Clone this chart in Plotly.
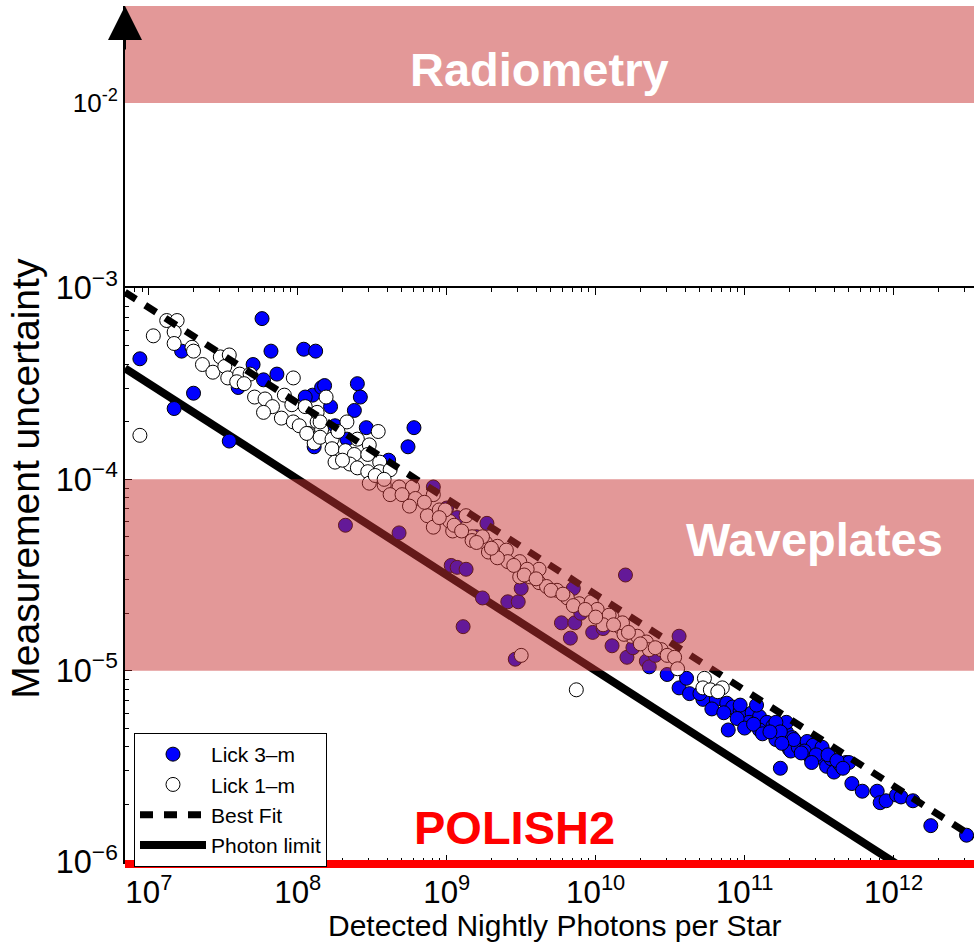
import numpy as np
import plotly.graph_objects as go

# ---------------- data (log10 values) ----------------
# Lick 3-m (blue filled circles)
lick3m_log_photons = [
    6.94, 7.76, 7.82, 8.04, 8.12, 7.22, 7.30, 7.17, 7.54, 7.70, 7.86, 7.77, 7.60, 8.10, 8.16, 8.05, 8.18, 8.40, 8.42, 8.22,
    8.38, 8.46, 8.78, 8.74, 8.61, 8.11, 8.25, 8.33,
    8.91, 8.32, 8.68, 9.27, 9.07, 9.03, 9.07, 9.13, 9.24, 9.41, 9.48, 9.50, 9.11, 9.77, 9.86, 9.83, 10.20, 9.85, 9.98, 10.11,
    9.46, 10.56, 10.21, 10.34,
    10.36, 10.48, 10.56, 10.61, 10.63, 10.72, 10.81, 10.88, 10.92, 10.97, 10.99, 11.05, 11.10, 11.15, 11.19, 11.23, 11.28,
    11.32, 10.97, 11.03, 11.10, 10.89, 11.30, 11.35, 11.21, 11.08, 11.28, 11.21, 11.24, 11.31, 11.36, 11.33, 11.42, 11.44,
    11.46, 11.52, 11.53, 11.55, 11.60, 11.58, 11.64, 11.68, 11.70, 11.24, 11.72, 11.79, 11.89, 11.91, 11.95, 12.02, 12.05,
    12.13, 12.25, 12.49,
    10.70, 10.78, 10.86, 10.95, 11.00, 11.06, 11.12, 11.17, 11.25, 11.40, 11.48, 11.56, 11.62, 11.66, 11.45, 11.38,
    9.00, 9.20, 9.35, 9.60, 9.90, 10.05, 10.25, 10.40,
]
lick3m_log_sigma = [
    -3.37, -3.16, -3.33, -3.32, -3.33, -3.33, -3.55, -3.63, -3.80, -3.40, -3.45, -3.48, -3.52, -3.56, -3.52, -3.57, -3.51,
    -3.50, -3.57, -3.62, -3.64, -3.73, -3.73, -3.83, -3.90, -3.83, -3.72, -3.79,
    -4.04, -4.24, -4.28, -4.23, -4.20, -4.45, -4.46, -4.47, -4.62, -4.64, -4.64, -4.57, -4.77, -4.75, -4.75, -4.83, -4.50,
    -4.57, -4.80, -4.87, -4.94, -4.82, -4.93, -4.95,
    -4.98, -5.02, -5.09, -5.04, -5.12, -5.15, -5.15, -5.17, -5.19, -5.21, -5.23, -5.22, -5.24, -5.27, -5.29, -5.30, -5.32,
    -5.35, -5.18, -5.27, -5.31, -5.31, -5.41, -5.38, -5.36, -5.18, -5.27, -5.27, -5.32, -5.42, -5.40, -5.36, -5.37, -5.45,
    -5.39, -5.40, -5.46, -5.50, -5.53, -5.46, -5.49, -5.48, -5.48, -5.51, -5.59, -5.63, -5.63, -5.69, -5.68, -5.65, -5.66,
    -5.68, -5.81, -5.86,
    -5.12, -5.20, -5.22, -5.25, -5.30, -5.28, -5.33, -5.32, -5.38, -5.42, -5.44, -5.44, -5.47, -5.51, -5.48, -5.43,
    -4.15, -4.30, -4.40, -4.52, -4.70, -4.78, -4.88, -4.92,
]

# Lick 1-m (open circles)
lick1m_log_photons = [
    6.94, 7.03, 7.12, 7.19, 7.17, 7.17, 7.29, 7.30, 7.36, 7.43, 7.48, 7.54, 7.51, 7.53, 7.61, 7.68, 7.59, 7.64, 7.97, 7.71,
    7.78, 7.83, 7.91, 7.96, 7.89, 7.77, 7.97, 8.05, 8.07, 8.13, 8.11, 8.01, 8.16, 8.19, 8.13, 8.15, 8.33, 8.54, 8.06, 8.15,
    8.23, 8.27, 8.40, 8.48, 8.23, 8.32, 8.38, 8.47, 8.55, 8.25, 8.35, 8.40, 8.47, 8.55, 8.62, 8.30,
    8.48, 8.58, 8.68, 8.77, 8.62, 8.70, 8.79, 8.91, 8.75, 8.87, 8.95, 9.02, 9.13, 8.91, 9.04, 9.17, 9.26, 9.34, 8.99, 9.17,
    9.24, 9.28, 9.40, 9.41, 9.49, 9.56, 9.62, 9.67, 9.74, 9.81, 9.89, 9.97, 10.01, 10.07, 10.11, 10.16, 10.24, 10.19, 9.34,
    9.49, 9.62, 9.54, 9.50, 10.09, 10.18, 10.28, 10.34, 10.36, 10.44, 10.48, 10.53, 10.05,
    10.55, 10.73, 10.72, 10.77, 10.85, 10.82, 9.87,
    8.85, 8.95, 9.05, 9.10, 9.20, 9.30, 9.45, 9.52, 9.60, 9.70, 9.78, 9.85, 9.93, 10.00, 10.12, 10.22, 10.30, 10.40, 8.52, 8.58,
]
lick1m_log_sigma = [
    -3.77, -3.25, -3.17, -3.17, -3.23, -3.29, -3.31, -3.33, -3.40, -3.44, -3.36, -3.35, -3.41, -3.47, -3.45, -3.45, -3.49,
    -3.50, -3.47, -3.57, -3.58, -3.62, -3.56, -3.61, -3.68, -3.65, -3.70, -3.62, -3.76, -3.70, -3.81, -3.72, -3.74, -3.57,
    -3.65, -3.70, -3.70, -3.75, -3.76, -3.78, -3.79, -3.75, -3.79, -3.82, -3.84, -3.85, -3.87, -3.87, -3.91, -3.91, -3.92,
    -3.94, -3.96, -3.96, -3.95, -3.90,
    -4.02, -4.03, -4.04, -4.04, -4.08, -4.08, -4.10, -4.08, -4.14, -4.19, -4.16, -4.22, -4.19, -4.25, -4.27, -4.30, -4.33,
    -4.35, -4.16, -4.32, -4.30, -4.38, -4.37, -4.43, -4.51, -4.51, -4.54, -4.56, -4.58, -4.62, -4.65, -4.64, -4.68, -4.73,
    -4.72, -4.77, -4.82, -4.81, -4.41, -4.43, -4.47, -4.47, -4.92, -4.71, -4.75, -4.82, -4.85, -4.89, -4.89, -4.92, -4.93,
    -4.76,
    -4.99, -5.04, -5.09, -5.10, -5.09, -5.11, -5.10,
    -4.12, -4.20, -4.24, -4.27, -4.33, -4.36, -4.45, -4.50, -4.52, -4.58, -4.60, -4.66, -4.68, -4.72, -4.76, -4.80, -4.86,
    -4.88, -3.98, -4.00,
]

# model lines: sigma = coeff / sqrt(N)
best_fit_coeff = 2.5
photon_limit_coeff = 1.0
line_log_photons = [6.84, 12.54]

# requirement bands / levels
radiometry_band = [1e-2, 10 ** -1.476]
waveplates_band = [1e-5, 1e-4]
polish2_level = 1e-6

# axis ranges (log10)
x_range = [6.84, 12.54]
y_low_range = [-6, -3]
y_high_range = [-3, -1.476]

# ---------------- figure ----------------
FONT = "Liberation Sans, Arial, Helvetica, sans-serif"
split = 574 / 856

N_line = 10 ** np.array(line_log_photons)

fig = go.Figure()
fig.add_trace(go.Scatter(
    x=N_line, y=photon_limit_coeff / np.sqrt(N_line), mode="lines",
    line=dict(color="black", width=8), name="Photon limit", legendrank=4,
    xaxis="x", yaxis="y"))
fig.add_trace(go.Scatter(
    x=10 ** np.array(lick3m_log_photons), y=10 ** np.array(lick3m_log_sigma), mode="markers",
    marker=dict(color="#0000ff", size=14, line=dict(color="black", width=1)),
    name="Lick 3\u2013m", legendrank=1, xaxis="x", yaxis="y"))
fig.add_trace(go.Scatter(
    x=10 ** np.array(lick1m_log_photons), y=10 ** np.array(lick1m_log_sigma), mode="markers",
    marker=dict(color="white", size=14, line=dict(color="black", width=1)),
    name="Lick 1\u2013m", legendrank=2, xaxis="x", yaxis="y"))
fig.add_trace(go.Scatter(
    x=N_line, y=best_fit_coeff / np.sqrt(N_line), mode="lines",
    line=dict(color="black", width=7, dash="13px,11px"), name="Best Fit", legendrank=3,
    xaxis="x", yaxis="y"))
# empty trace so the upper panel exists
fig.add_trace(go.Scatter(x=[], y=[], xaxis="x", yaxis="y2", showlegend=False, hoverinfo="skip"))

band_color = "rgba(200,50,50,0.5)"
fig.add_shape(type="rect", xref="x domain", x0=0, x1=1, yref="y",
              y0=waveplates_band[0], y1=waveplates_band[1],
              fillcolor=band_color, line=dict(width=0), layer="above")
fig.add_shape(type="rect", xref="x domain", x0=0, x1=1, yref="y2",
              y0=radiometry_band[0], y1=radiometry_band[1],
              fillcolor=band_color, line=dict(width=0), layer="above")
# POLISH2 level = bottom of the lower axis (1e-6)
fig.add_shape(type="line", xref="x domain", x0=0, x1=1, yref="y domain",
              y0=-0.0035, y1=-0.0035,
              line=dict(color="#ff0000", width=8), layer="above")

big = dict(family=FONT, size=47, weight="bold")
fig.add_annotation(text="Radiometry", x=9.62, y=-1.82, xref="x", yref="y2",
                   showarrow=False, font=dict(big, color="white"))
fig.add_annotation(text="Waveplates", x=11.47, y=-4.314, xref="x", yref="y",
                   showarrow=False, font=dict(big, color="white"))
fig.add_annotation(text="POLISH2", x=9.456, y=-5.82, xref="x", yref="y",
                   showarrow=False, font=dict(big, color="#ff0000"))
# arrow at the top of the y axis
fig.add_annotation(text="", x=0, y=1, xref="paper", yref="paper", ax=0, ay=45,
                   showarrow=True, arrowhead=2, arrowsize=3.4, arrowwidth=2, arrowcolor="black")
# axis titles
fig.add_annotation(text="Measurement uncertainty", x=-0.117, y=0.4486, xref="paper", yref="paper",
                   xanchor="center", yanchor="middle",
                   textangle=-90, showarrow=False, font=dict(family=FONT, size=39, color="black"))
fig.add_annotation(text="Detected Nightly Photons per Star", x=0.5065, y=-0.0745, xref="paper",
                   yref="paper", xanchor="center", yanchor="middle",
                   showarrow=False, font=dict(family=FONT, size=30, color="black"))

xtickfont = dict(family=FONT, size=25, color="black")
ytickfont = dict(family=FONT, size=26, color="black")
fig.update_layout(
    template="none",
    width=974, height=944,
    margin=dict(l=125, r=0, t=6, b=82, autoexpand=False),
    paper_bgcolor="white", plot_bgcolor="white",
    showlegend=True,
    legend=dict(x=0.0106, y=0.1507, xanchor="left", yanchor="top",
                bordercolor="black", borderwidth=1, bgcolor="white",
                font=dict(family=FONT, size=21, color="black"),
                itemwidth=66, tracegroupgap=0),
    xaxis=dict(type="log", range=x_range, domain=[0, 1], anchor="y", automargin=False,
               showline=True, linecolor="black", linewidth=2, mirror="ticks",
               ticks="inside", ticklen=7, tickcolor="black", tickwidth=1, dtick=1,
               exponentformat="power", tickfont=xtickfont, ticklabelstandoff=3,
               minor=dict(ticks="inside", ticklen=4, dtick="D1", tickcolor="black", tickwidth=1,
                          showgrid=False),
               showgrid=False, zeroline=False),
    yaxis=dict(type="log", range=y_low_range, domain=[0, split], anchor="x", automargin=False,
               showline=True, linecolor="black", linewidth=2,
               ticks="inside", ticklen=7, tickcolor="black", tickwidth=1, dtick=1,
               exponentformat="power", tickfont=ytickfont,
               minor=dict(ticks="inside", ticklen=4, dtick="D1", tickcolor="black", tickwidth=1,
                          showgrid=False),
               showgrid=False, zeroline=False),
    yaxis2=dict(type="log", range=y_high_range, domain=[split, 1], anchor="x", automargin=False,
                showline=True, linecolor="black", linewidth=2, ticks="",
                tickvals=[1e-2], ticktext=["10<sup>-2</sup>"], tickfont=ytickfont,
                showgrid=False, zeroline=False),
)

fig.write_html("out.html")
